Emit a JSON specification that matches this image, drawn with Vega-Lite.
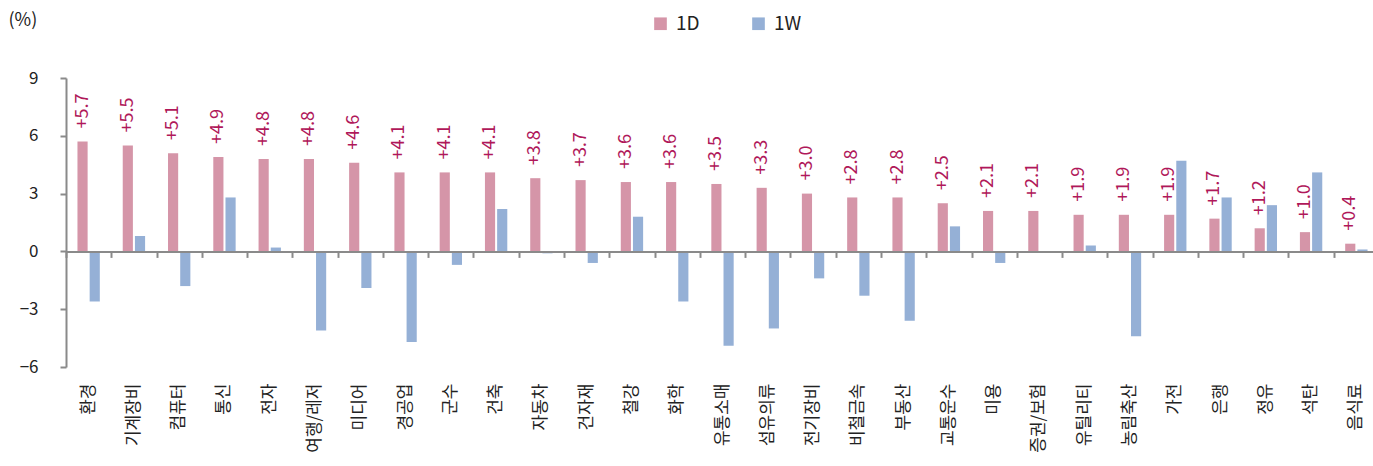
{
  "$schema": "https://vega.github.io/schema/vega-lite/v6.json",
  "autosize": "none",
  "padding": {"left": 66, "top": 78, "right": 0, "bottom": 99},
  "width": 1313,
  "height": 289,
  "background": "white",
  "config": {
    "font": "Noto Sans CJK KR",
    "view": {"stroke": null}
  },
  "data": {"values": [
    {"sector": "환경", "series": "1D", "value": 5.7}, {"sector": "환경", "series": "1W", "value": -2.6},
    {"sector": "기계장비", "series": "1D", "value": 5.5}, {"sector": "기계장비", "series": "1W", "value": 0.8},
    {"sector": "컴퓨터", "series": "1D", "value": 5.1}, {"sector": "컴퓨터", "series": "1W", "value": -1.8},
    {"sector": "통신", "series": "1D", "value": 4.9}, {"sector": "통신", "series": "1W", "value": 2.8},
    {"sector": "전자", "series": "1D", "value": 4.8}, {"sector": "전자", "series": "1W", "value": 0.2},
    {"sector": "여행/레저", "series": "1D", "value": 4.8}, {"sector": "여행/레저", "series": "1W", "value": -4.1},
    {"sector": "미디어", "series": "1D", "value": 4.6}, {"sector": "미디어", "series": "1W", "value": -1.9},
    {"sector": "경공업", "series": "1D", "value": 4.1}, {"sector": "경공업", "series": "1W", "value": -4.7},
    {"sector": "군수", "series": "1D", "value": 4.1}, {"sector": "군수", "series": "1W", "value": -0.7},
    {"sector": "건축", "series": "1D", "value": 4.1}, {"sector": "건축", "series": "1W", "value": 2.2},
    {"sector": "자동차", "series": "1D", "value": 3.8}, {"sector": "자동차", "series": "1W", "value": -0.1},
    {"sector": "건자재", "series": "1D", "value": 3.7}, {"sector": "건자재", "series": "1W", "value": -0.6},
    {"sector": "철강", "series": "1D", "value": 3.6}, {"sector": "철강", "series": "1W", "value": 1.8},
    {"sector": "화학", "series": "1D", "value": 3.6}, {"sector": "화학", "series": "1W", "value": -2.6},
    {"sector": "유통소매", "series": "1D", "value": 3.5}, {"sector": "유통소매", "series": "1W", "value": -4.9},
    {"sector": "섬유의류", "series": "1D", "value": 3.3}, {"sector": "섬유의류", "series": "1W", "value": -4.0},
    {"sector": "전기장비", "series": "1D", "value": 3.0}, {"sector": "전기장비", "series": "1W", "value": -1.4},
    {"sector": "비철금속", "series": "1D", "value": 2.8}, {"sector": "비철금속", "series": "1W", "value": -2.3},
    {"sector": "부동산", "series": "1D", "value": 2.8}, {"sector": "부동산", "series": "1W", "value": -3.6},
    {"sector": "교통운수", "series": "1D", "value": 2.5}, {"sector": "교통운수", "series": "1W", "value": 1.3},
    {"sector": "미용", "series": "1D", "value": 2.1}, {"sector": "미용", "series": "1W", "value": -0.6},
    {"sector": "증권/보험", "series": "1D", "value": 2.1}, {"sector": "증권/보험", "series": "1W", "value": 0.0},
    {"sector": "유틸리티", "series": "1D", "value": 1.9}, {"sector": "유틸리티", "series": "1W", "value": 0.3},
    {"sector": "농림축산", "series": "1D", "value": 1.9}, {"sector": "농림축산", "series": "1W", "value": -4.4},
    {"sector": "가전", "series": "1D", "value": 1.9}, {"sector": "가전", "series": "1W", "value": 4.7},
    {"sector": "은행", "series": "1D", "value": 1.7}, {"sector": "은행", "series": "1W", "value": 2.8},
    {"sector": "정유", "series": "1D", "value": 1.2}, {"sector": "정유", "series": "1W", "value": 2.4},
    {"sector": "석탄", "series": "1D", "value": 1.0}, {"sector": "석탄", "series": "1W", "value": 4.1},
    {"sector": "음식료", "series": "1D", "value": 0.4}, {"sector": "음식료", "series": "1W", "value": 0.1}
  ]},
  "resolve": {"axis": {"x": "independent"}},
  "layer": [
    {
      "mark": {"type": "bar"},
      "encoding": {
        "x": {
          "field": "sector", "type": "nominal", "sort": null,
          "scale": {"paddingInner": 0, "paddingOuter": 0},
          "axis": {
            "title": null, "orient": "bottom", "domain": false, "ticks": false, "tickSize": 0,
            "labelAngle": -90, "labelPadding": 16, "labelFontSize": 17, "labelColor": "#222",
            "labelLimit": 200
          }
        },
        "xOffset": {
          "field": "series", "type": "nominal",
          "scale": {"domain": ["1D", "1W"], "paddingInner": 0.1667, "paddingOuter": 0.94}
        },
        "y": {
          "field": "value", "type": "quantitative",
          "scale": {"domain": [-6, 9], "nice": false, "zero": false},
          "axis": {
            "values": [-6, -3, 0, 3, 6, 9], "grid": false,
            "domainColor": "#8a8a8a", "domainWidth": 2, "tickColor": "#8a8a8a", "tickWidth": 2, "tickSize": 6,
            "labelFontSize": 17, "labelColor": "#222", "labelPadding": 22,
            "title": "(%)", "titleAngle": 0, "titleX": -58, "titleY": -58,
            "titleAlign": "left", "titleBaseline": "middle", "titleFontSize": 18,
            "titleFontWeight": "normal", "titleColor": "#222"
          }
        },
        "color": {
          "field": "series", "type": "nominal",
          "scale": {"domain": ["1D", "1W"], "range": ["#d595a8", "#95b0d6"]},
          "legend": {
            "title": null, "orient": "none", "direction": "horizontal",
            "legendX": 585, "legendY": -64, "padding": 0,
            "symbolType": "square", "symbolSize": 160, "symbolStrokeWidth": 0, "symbolOpacity": 1,
            "labelFontSize": 19, "labelColor": "#222", "labelOffset": 6, "columnPadding": 49
          }
        }
      }
    },
    {
      "transform": [{"filter": "datum.series === '1D'"}],
      "mark": {"type": "text", "angle": 270, "align": "left", "baseline": "middle", "dx": 13, "fontSize": 18, "color": "#b0185a"},
      "encoding": {
        "x": {
          "field": "sector", "type": "nominal", "sort": null,
          "axis": {
            "title": null, "orient": "bottom", "offset": -115.6, "labels": false,
            "domain": true, "domainColor": "#8a8a8a", "domainWidth": 2,
            "ticks": true, "tickBand": "extent", "tickColor": "#8a8a8a", "tickWidth": 2, "tickSize": 6,
            "zindex": 1
          }
        },
        "xOffset": {"field": "series", "type": "nominal"},
        "y": {"field": "value", "type": "quantitative"},
        "text": {"field": "value", "type": "quantitative", "format": "+.1f"}
      }
    }
  ]
}
